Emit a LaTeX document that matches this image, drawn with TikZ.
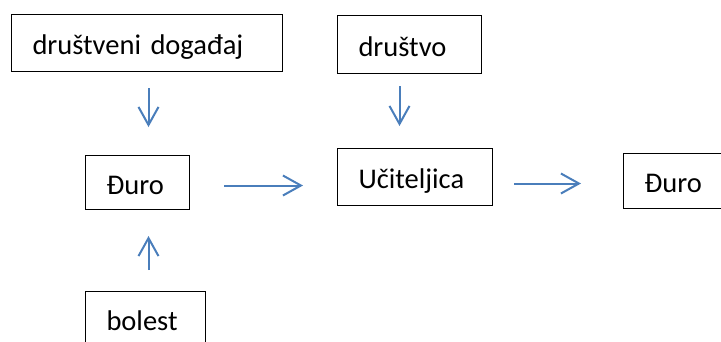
\documentclass[tikz,border=0pt]{standalone}
\usepackage{fontspec}
\setmainfont{Carlito}
\usetikzlibrary{arrows.meta}

\definecolor{arrowblue}{HTML}{4A7EBB}

\begin{document}
\begin{tikzpicture}[%
		x=1pt, y=-1pt,
		concept/.style={
			rectangle,
			draw=black,
			line width=1pt,
			anchor=north west,
			align=left,
			inner xsep=21pt,
			inner ysep=0pt,
			text height=25pt,
			text depth=2pt,
			font=\fontsize{28.5}{34}\selectfont
		},
		influence/.style={
			draw=arrowblue,
			line width=2pt,
			-{Straight Barb[length=18pt,width=20pt]}
		}]

		\useasboundingbox (0,0) rectangle (721,341);

		% BOXES

		\node (dd) [concept, text width=229pt, minimum height=57pt] at (11,14) {društveni događaj};
		\node (drustvo) [concept, text width=102pt, minimum height=58pt] at (337,15) {društvo};
		\node (duro) [concept, text width=62pt, minimum height=54pt] at (85,155) {Đuro};
		\node (uciteljica) [concept, text width=113pt, minimum height=57pt] at (337,148) {Učiteljica};
		\node (duro2) [concept, text width=62pt, minimum height=55pt] at (623,153) {Đuro};
		\node (bolest) [concept, text width=78pt, minimum height=55pt] at (85,291) {bolest};

		% ARROWS

		\draw[influence, shorten <=16pt, shorten >=28pt] ([xshift=1.5pt]dd.south) -- ([xshift=1.5pt]dd.south |- duro.north);
		\draw[influence, shorten <=12pt, shorten >=22pt] ([xshift=-10pt]drustvo.south) -- ([xshift=-10pt]drustvo.south |- uciteljica.north);
		\draw[influence, shorten <=21pt, shorten >=26pt] ([xshift=3pt]bolest.north) -- ([xshift=3pt]bolest.north |- duro.south);
		\draw[influence, shorten <=34pt, shorten >=34pt] ([yshift=-3pt]duro.east) -- ([yshift=-3pt]duro.east -| uciteljica.west);
		\draw[influence, shorten <=21pt, shorten >=42pt] ([yshift=-6.5pt]uciteljica.east) -- ([yshift=-6.5pt]uciteljica.east -| duro2.west);
\end{tikzpicture}
\end{document}
